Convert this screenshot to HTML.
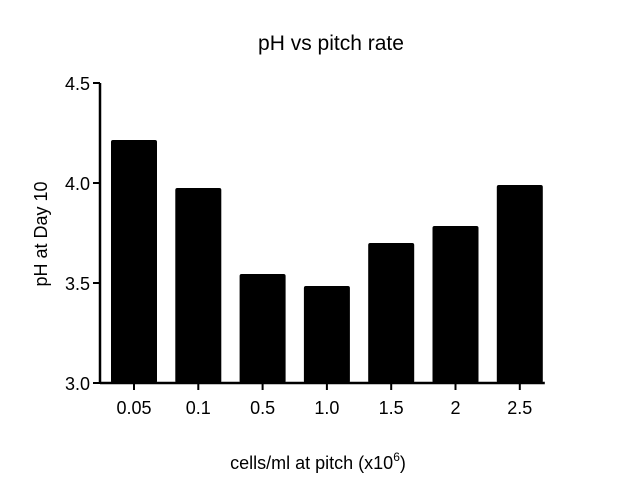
<!DOCTYPE html>
<html><head><meta charset="utf-8"><style>
body{margin:0;background:#fff;}
text{font-family:"Liberation Sans",Arial,sans-serif;fill:#000;}
</style></head><body>
<svg width="624" height="495" viewBox="0 0 624 495">
<text x="331" y="50" font-size="21" text-anchor="middle">pH vs pitch rate</text>
<text transform="translate(47,234) rotate(-90)" font-size="18" text-anchor="middle">pH at Day 10</text>
<text x="318" y="469" font-size="18" text-anchor="middle">cells/ml at pitch (x10<tspan dy="-8" font-size="12">6</tspan><tspan dy="8">)</tspan></text>
<g id="plot"></g>
</svg>
<script>
const categories=["0.05","0.1","0.5","1.0","1.5","2","2.5"];
const values=[4.215,3.975,3.545,3.485,3.70,3.785,3.99];
const yTicks=[3.0,3.5,4.0,4.5];
const yTickLabels=["3.0","3.5","4.0","4.5"];
const NS="http://www.w3.org/2000/svg";
const g=document.getElementById("plot");
const x0=100,yTop=83,yBot=383,yMin=3,yMax=4.5,step=64.3,first=134,bw=46;
const y=v=>yBot-(v-yMin)/(yMax-yMin)*(yBot-yTop);
const xc=i=>first+i*step;
function el(t,a){const e=document.createElementNS(NS,t);for(const k in a)e.setAttribute(k,a[k]);g.appendChild(e);return e;}
values.forEach((v,i)=>{
const r=el("rect",{x:xc(i)-bw/2,y:y(v),width:bw,height:yBot-y(v),fill:"#000",rx:2});


const t=el("line",{x1:xc(i),x2:xc(i),y1:yBot,y2:yBot+7,stroke:"#000","stroke-width":2});


const l=el("text",{x:xc(i),y:yBot+31,"font-size":18,"text-anchor":"middle"});
l.textContent=categories[i];


});
yTicks.forEach((v,i)=>{
const t=el("line",{x1:x0-7,x2:x0,y1:y(v),y2:y(v),stroke:"#000","stroke-width":2});


const l=el("text",{x:x0-10,y:y(v)+7,"font-size":18,"text-anchor":"end"});
l.textContent=yTickLabels[i];


});
const ya=el("line",{x1:x0,x2:x0,y1:yTop,y2:yBot+1,stroke:"#000","stroke-width":2.5});


const xa=el("line",{x1:x0,x2:xc(categories.length-1)+bw/2+2,y1:yBot,y2:yBot,stroke:"#000","stroke-width":2.5});


</script>
</body></html>
